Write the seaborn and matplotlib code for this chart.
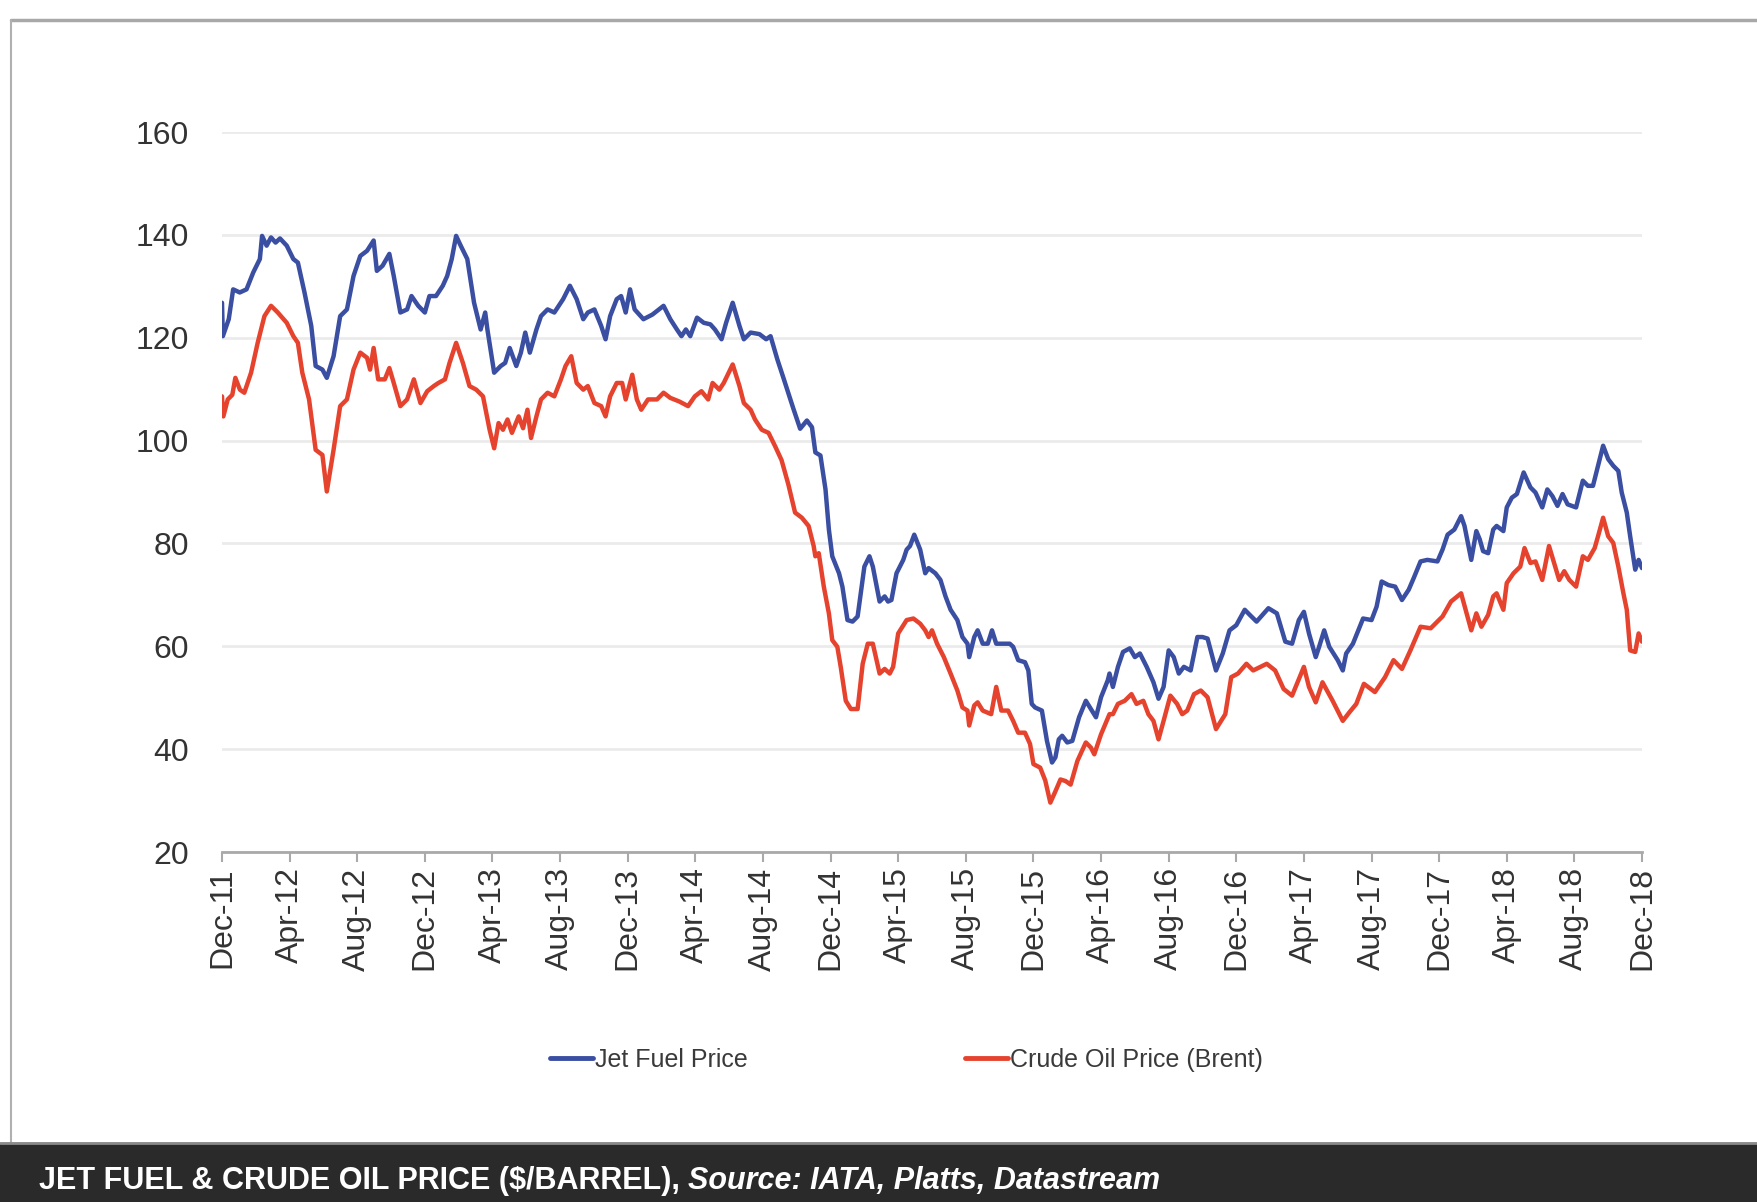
import numpy as np
import pandas as pd
import matplotlib
matplotlib.use("Agg")
import matplotlib.pyplot as plt
import seaborn as sns
from matplotlib.lines import Line2D
from matplotlib.patches import Rectangle

# ---------------- data (months after Dec-2011, $/barrel) ----------------
jet_month = [0, 0.05, 0.4, 0.66, 1.05, 1.45, 1.85, 2.24, 2.37, 2.64, 2.9, 3.17, 3.43, 3.83, 4.22, 4.49,
             4.88, 5.28, 5.54, 5.94, 6.2, 6.6, 6.99, 7.39, 7.78, 8.18, 8.58, 8.97, 9.16, 9.5, 9.9, 10.16,
             10.55, 10.95, 11.21, 11.61, 12.0, 12.27, 12.66, 13.06, 13.32, 13.59, 13.85, 14.12, 14.51,
             14.91, 15.3, 15.57, 15.7, 16.1, 16.49, 16.75, 17.02, 17.41, 17.68, 17.94, 18.21, 18.6,
             18.87, 19.26, 19.66, 19.92, 20.18, 20.58, 20.98, 21.37, 21.64, 22.03, 22.43, 22.69, 22.96,
             23.35, 23.61, 23.88, 24.14, 24.41, 24.93, 25.46, 26.12, 26.52, 26.91, 27.18, 27.44, 27.7,
             28.1, 28.5, 28.89, 29.16, 29.55, 29.82, 30.21, 30.61, 30.87, 31.27, 31.79, 32.19, 32.45,
             32.85, 33.2, 33.8, 34.2, 34.6, 34.9, 35.1, 35.4, 35.7, 35.9, 36.1, 36.5, 36.7, 37.0, 37.3,
             37.6, 38.0, 38.3, 38.5, 38.9, 39.2, 39.4, 39.6, 39.9, 40.3, 40.5, 40.7, 40.95, 41.3, 41.6,
             41.8, 42.2, 42.5, 42.8, 43.1, 43.5, 43.8, 44.1, 44.2, 44.5, 44.7, 45.0, 45.3, 45.55, 45.8,
             46.2, 46.6, 46.8, 47.1, 47.5, 47.7, 47.9, 48.1, 48.5, 48.8, 49.1, 49.3, 49.5, 49.7, 50.0,
             50.3, 50.7, 51.1, 51.4, 51.7, 52.0, 52.4, 52.5, 52.7, 53.0, 53.3, 53.7, 54.0, 54.3, 54.7,
             55.1, 55.4, 55.7, 56.0, 56.3, 56.6, 56.9, 57.3, 57.7, 58.0, 58.3, 58.8, 59.2, 59.6, 60.0,
             60.5, 60.8, 61.2, 61.9, 62.4, 62.9, 63.3, 63.7, 64.0, 64.3, 64.7, 64.9, 65.2, 65.5, 66.0,
             66.3, 66.5, 66.9, 67.3, 67.5, 68.0, 68.3, 68.6, 69.0, 69.4, 69.8, 70.2, 70.5, 70.9, 71.3,
             71.9, 72.2, 72.5, 72.9, 73.3, 73.5, 73.9, 74.2, 74.4, 74.6, 74.9, 75.2, 75.4, 75.8, 76.0,
             76.3, 76.6, 77.0, 77.4, 77.7, 78.1, 78.4, 78.7, 79.0, 79.3, 79.6, 80.1, 80.5, 80.8, 81.1,
             81.4, 81.7, 82.0, 82.3, 82.6, 82.8, 83.1, 83.3, 83.6, 83.8, 84.0]
jet_price = [126.8, 120.3, 123.6, 129.4, 128.8, 129.4, 132.7, 135.3, 139.8, 137.9, 139.5, 138.5, 139.3,
             137.9, 135.3, 134.6, 128.8, 122.3, 114.5, 113.8, 112.2, 116.4, 124.2, 125.5, 132.0, 135.9,
             136.9, 138.9, 133.0, 134.0, 136.3, 132.0, 124.9, 125.5, 128.1, 126.2, 124.9, 128.1, 128.1,
             130.1, 132.0, 135.3, 139.8, 137.9, 135.3, 126.8, 121.6, 124.9, 121.6, 113.2, 114.5, 115.1,
             118.0, 114.5, 117.1, 121.0, 117.1, 121.6, 124.2, 125.5, 124.9, 126.2, 127.5, 130.1, 127.5,
             123.6, 124.9, 125.5, 122.3, 119.7, 124.2, 127.5, 128.1, 124.9, 129.4, 125.5, 123.6, 124.5,
             126.2, 123.6, 121.6, 120.3, 121.6, 120.3, 123.9, 122.9, 122.6, 121.6, 119.7, 122.9, 126.8,
             122.3, 119.7, 121.0, 120.7, 119.7, 120.3, 115.8, 112.3, 106.2, 102.3, 103.9, 102.6, 97.7,
             97.1, 90.5, 82.7, 77.5, 74.2, 71.6, 65.1, 64.8, 65.8, 75.5, 77.5, 75.5, 68.7, 69.7, 68.7,
             69.0, 74.2, 76.8, 78.8, 79.5, 81.7, 78.8, 74.2, 75.2, 74.2, 72.9, 69.7, 67.1, 65.1, 61.8,
             60.5, 57.9, 61.8, 63.1, 60.5, 60.5, 63.1, 60.5, 60.5, 60.5, 59.9, 57.3, 56.9, 55.3, 48.8,
             48.1, 47.5, 41.6, 37.4, 38.4, 41.9, 42.6, 41.3, 41.6, 46.2, 49.4, 47.8, 46.2, 50.1, 53.4,
             54.7, 52.1, 56.0, 58.9, 59.6, 57.9, 58.6, 56.0, 53.0, 49.8, 52.1, 59.2, 57.9, 54.7, 56.0,
             55.3, 61.8, 61.8, 61.5, 55.3, 58.6, 63.1, 64.1, 67.1, 66.1, 64.8, 67.4, 66.4, 60.9, 60.5,
             65.1, 66.7, 62.5, 57.9, 59.9, 63.1, 59.9, 57.3, 55.3, 58.6, 60.5, 63.8, 65.4, 65.1, 67.7,
             72.6, 71.9, 71.6, 69.0, 71.0, 73.3, 76.5, 76.8, 76.5, 78.8, 81.7, 82.7, 85.3, 83.4, 76.8,
             82.4, 80.8, 78.5, 78.1, 82.7, 83.4, 82.4, 87.0, 88.9, 89.6, 93.8, 90.9, 89.9, 87.0, 90.5,
             89.2, 87.3, 89.6, 87.6, 87.0, 92.2, 91.2, 91.2, 95.1, 99.0, 96.4, 95.1, 94.1, 89.9, 86.0,
             81.4, 74.9, 76.8, 75.2]

brent_month = [0, 0.08, 0.34, 0.61, 0.79, 1.06, 1.32, 1.72, 2.11, 2.51, 2.9, 3.3, 3.83, 4.22, 4.49,
               4.75, 5.15, 5.54, 5.94, 6.2, 6.6, 6.99, 7.39, 7.78, 8.18, 8.58, 8.76, 8.97, 9.24, 9.63,
               9.9, 10.16, 10.55, 10.95, 11.35, 11.74, 12.14, 12.53, 12.8, 13.19, 13.46, 13.85, 14.25,
               14.64, 15.04, 15.44, 15.83, 16.1, 16.36, 16.62, 16.89, 17.15, 17.55, 17.81, 18.07, 18.28,
               18.6, 18.87, 19.26, 19.66, 20.05, 20.32, 20.66, 20.98, 21.37, 21.64, 22.03, 22.43, 22.69,
               22.96, 23.35, 23.67, 23.88, 24.27, 24.54, 24.8, 25.2, 25.73, 26.12, 26.52, 27.05, 27.57,
               27.97, 28.36, 28.76, 29.02, 29.42, 29.68, 30.21, 30.61, 30.87, 31.27, 31.53, 31.93,
               32.33, 32.72, 33.1, 33.5, 33.9, 34.3, 34.7, 35.0, 35.1, 35.3, 35.6, 35.9, 36.1, 36.4,
               36.6, 36.9, 37.2, 37.6, 37.9, 38.2, 38.5, 38.9, 39.2, 39.5, 39.7, 40.0, 40.5, 40.9, 41.3,
               41.6, 41.8, 42.0, 42.3, 42.7, 43.1, 43.5, 43.8, 44.1, 44.2, 44.5, 44.7, 45.0, 45.5, 45.8,
               46.1, 46.5, 46.8, 47.1, 47.5, 47.8, 48.0, 48.4, 48.7, 49.0, 49.3, 49.6, 49.9, 50.2, 50.6,
               51.1, 51.4, 51.6, 52.0, 52.5, 52.7, 53.0, 53.4, 53.8, 54.1, 54.5, 54.8, 55.1, 55.4, 55.7,
               56.1, 56.5, 56.8, 57.1, 57.5, 57.9, 58.3, 58.8, 59.35, 59.7, 60.1, 60.6, 61.0, 61.8, 62.3,
               62.8, 63.3, 64.0, 64.3, 64.7, 65.1, 65.7, 66.3, 66.7, 67.1, 67.55, 68.2, 68.8, 69.3, 69.8,
               70.3, 70.9, 71.5, 72.2, 72.7, 73.3, 73.9, 74.2, 74.5, 74.9, 75.2, 75.4, 75.8, 76.0, 76.4,
               76.8, 77.05, 77.4, 77.7, 78.1, 78.5, 78.8, 79.1, 79.4, 79.7, 80.1, 80.5, 80.8, 81.2, 81.4,
               81.7, 82.0, 82.3, 82.6, 82.9, 83.1, 83.3, 83.6, 83.8, 84.0]
brent_price = [108.6, 104.7, 108.0, 108.9, 112.2, 109.9, 109.3, 113.2, 119.0, 124.2, 126.2, 124.9, 122.9,
               120.3, 119.0, 113.2, 108.0, 98.2, 97.2, 90.1, 98.2, 106.7, 108.0, 113.8, 117.1, 116.1,
               113.8, 118.0, 111.9, 111.9, 114.1, 111.2, 106.7, 108.0, 111.9, 107.3, 109.6, 110.6, 111.2,
               111.9, 115.1, 119.0, 115.1, 110.6, 109.9, 108.6, 102.1, 98.5, 103.4, 102.1, 104.1, 101.5,
               104.7, 102.4, 106.0, 100.5, 104.7, 108.0, 109.3, 108.6, 111.9, 114.5, 116.4, 111.2, 109.9,
               110.6, 107.3, 106.7, 104.7, 108.6, 111.2, 111.2, 108.0, 112.8, 108.0, 106.0, 108.0, 108.0,
               109.3, 108.3, 107.6, 106.7, 108.6, 109.6, 108.0, 111.2, 109.9, 111.2, 114.8, 110.6, 107.3,
               106.0, 104.1, 102.1, 101.5, 98.9, 96.2, 91.5, 86.0, 85.0, 83.4, 79.5, 77.5, 78.1, 71.6,
               66.4, 61.2, 59.9, 56.0, 49.4, 47.8, 47.8, 56.6, 60.5, 60.5, 54.7, 55.6, 54.7, 56.0, 62.5,
               65.1, 65.4, 64.4, 63.1, 61.8, 63.1, 60.5, 57.9, 54.7, 51.4, 48.1, 47.5, 44.6, 48.5, 49.1,
               47.5, 46.8, 52.1, 47.5, 47.5, 45.5, 43.2, 43.2, 41.0, 37.1, 36.4, 33.9, 29.6, 31.8, 34.1,
               33.8, 33.1, 37.7, 41.3, 40.3, 39.0, 42.9, 46.8, 46.8, 48.8, 49.4, 50.7, 48.8, 49.4, 46.8,
               45.5, 41.9, 45.5, 50.4, 48.8, 46.8, 47.5, 50.7, 51.4, 50.1, 43.9, 46.8, 54.0, 54.7, 56.6,
               55.3, 56.6, 55.3, 51.7, 50.4, 56.0, 52.1, 49.1, 53.0, 49.4, 45.5, 47.2, 48.8, 52.7, 51.1,
               54.0, 57.3, 55.6, 59.2, 63.8, 63.5, 65.8, 68.7, 70.3, 63.1, 66.4, 63.8, 66.1, 69.7, 70.3,
               67.1, 72.3, 74.2, 75.5, 79.1, 76.2, 76.5, 72.9, 79.5, 76.2, 72.9, 74.6, 72.9, 71.6, 77.5,
               76.8, 79.1, 81.4, 85.0, 81.4, 80.1, 75.5, 70.3, 67.1, 59.2, 58.9, 62.5, 60.9]

x_tick_labels = ["Dec-11", "Apr-12", "Aug-12", "Dec-12", "Apr-13", "Aug-13", "Dec-13", "Apr-14",
                 "Aug-14", "Dec-14", "Apr-15", "Aug-15", "Dec-15", "Apr-16", "Aug-16", "Dec-16",
                 "Apr-17", "Aug-17", "Dec-17", "Apr-18", "Aug-18", "Dec-18"]
y_ticks = [20, 40, 60, 80, 100, 120, 140, 160]
series_names = ["Jet Fuel Price", "Crude Oil Price (Brent)"]

BLUE = "#3a4ea2"
RED = "#e6432f"

# ---------------- figure ----------------
sns.set_theme(style="white")
plt.rcParams['font.family'] = ['Liberation Sans', 'DejaVu Sans']

W, H = 1757, 1202
fig = plt.figure(figsize=(W / 100, H / 100), dpi=100)
fig.patch.set_facecolor("white")

left, right = 222 / W, 1642 / W
bottom, top = 1 - 852 / H, 1 - 132 / H
ax = fig.add_axes([left, bottom, right - left, top - bottom])

df_jet = pd.DataFrame({"month": jet_month, "price": jet_price})
df_brent = pd.DataFrame({"month": brent_month, "price": brent_price})
sns.lineplot(data=df_jet, x="month", y="price", ax=ax, color=BLUE, lw=3.2,
             estimator=None, sort=False, label=series_names[0])
sns.lineplot(data=df_brent, x="month", y="price", ax=ax, color=RED, lw=3.2,
             estimator=None, sort=False, label=series_names[1])

ax.set_xlim(0, 84)
ax.set_ylim(20, 160)
ax.set_xlabel("")
ax.set_ylabel("")
ax.set_yticks(y_ticks)
ax.set_yticklabels([str(v) for v in y_ticks])
ax.set_xticks(list(range(0, 85, 4)))
ax.set_xticklabels(x_tick_labels, rotation=90)

for s in ["top", "right", "left"]:
    ax.spines[s].set_visible(False)
ax.spines["bottom"].set_color("#a9a9a9")
ax.spines["bottom"].set_linewidth(2.0)
ax.yaxis.grid(True, color="#ebebeb", lw=2.0)
ax.xaxis.grid(False)
ax.set_axisbelow(True)

ax.tick_params(axis="y", length=0, pad=24, labelsize=23, labelcolor="#333333")
ax.tick_params(axis="x", length=7, width=1.5, color="#a9a9a9", direction="out",
               pad=4, labelsize=23, labelcolor="#333333", bottom=True)

if ax.get_legend() is not None:
    ax.get_legend().remove()
handles = [Line2D([], [], color=BLUE, lw=3.5), Line2D([], [], color=RED, lw=3.5)]
leg = fig.legend(handles, series_names, loc="center", bbox_to_anchor=(0.516, 1 - 1060 / H),
                 ncol=2, frameon=False, fontsize=18, handlelength=1.7, handletextpad=0.1,
                 columnspacing=8.7)
for t in leg.get_texts():
    t.set_color("#3a3a3a")

# outer frame
fy = 1 - 20 / H
fx = 11 / W
fig.add_artist(Line2D([fx, 1], [fy, fy], transform=fig.transFigure, color="#a8a8a8", lw=2.5))
fig.add_artist(Line2D([fx, fx], [fy, 59 / H], transform=fig.transFigure, color="#b0b0b0", lw=1.5))

# bottom dark caption bar
fig.add_artist(Rectangle((0, 0), 1, 59 / H, transform=fig.transFigure, color="#2a2a2a", zorder=5))
fig.add_artist(Line2D([0, 1], [59 / H, 59 / H], transform=fig.transFigure, color="#8a8a8a", lw=2, zorder=6))

cap_family = ["Liberation Sans", "DejaVu Sans"]
t1 = fig.text(39 / W, 1 - 1181 / H, "JET FUEL & CRUDE OIL PRICE ($/BARREL), ", color="white",
              fontsize=22, fontweight="bold", family=cap_family, va="center", ha="left", zorder=7)
renderer = fig.canvas.get_renderer()
bb = t1.get_window_extent(renderer=renderer)
fig.text(bb.x1 / W, 1 - 1181 / H, "Source: IATA, Platts, Datastream", color="white",
         fontsize=22, fontweight="bold", fontstyle="italic", family=cap_family,
         va="center", ha="left", zorder=7)

fig.savefig("out.png", dpi=100, facecolor="white")
